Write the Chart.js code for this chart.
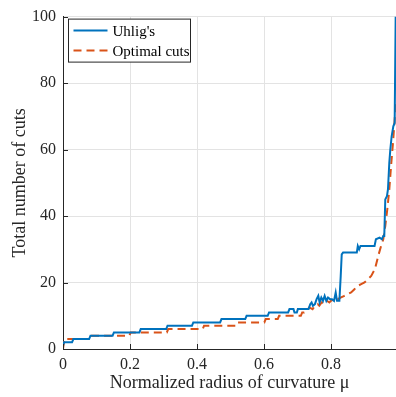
<!DOCTYPE html>
<html>
<head>
<meta charset="utf-8">
<script src="https://cdn.jsdelivr.net/npm/chart.js@4"></script>
<style>
  html, body { margin: 0; padding: 0; background: #fff; }
  #wrap { width: 396px; height: 397px; }
</style>
</head>
<body>
<div id="wrap"><canvas id="chart" width="396" height="397"></canvas></div>
<script>
// Uhlig's curve (blue, solid)
const uhligMu = [0, 0.003, 0.027, 0.031, 0.078, 0.082, 0.148, 0.152, 0.228, 0.232, 0.308, 0.312,
  0.385, 0.389, 0.469, 0.473, 0.544, 0.548, 0.611, 0.615, 0.672, 0.676, 0.688, 0.691, 0.698, 0.701,
  0.733, 0.738, 0.742, 0.746, 0.752, 0.757, 0.762, 0.766, 0.771, 0.776, 0.781, 0.786, 0.791, 0.797,
  0.803, 0.809, 0.814, 0.818, 0.825, 0.829, 0.832, 0.836, 0.877, 0.880, 0.884, 0.888, 0.930, 0.934,
  0.945, 0.952, 0.956, 0.959, 0.962, 0.967, 0.970, 0.974, 0.977, 0.981, 0.986, 0.990, 0.993];
const uhligCuts = [1, 2, 2, 3, 3, 4, 4, 5, 5, 6, 6, 7,
  7, 8, 8, 9, 9, 10, 10, 11, 11, 12, 12, 11, 11, 12,
  12, 13.5, 14, 13, 13.5, 15, 16, 14, 15.5, 14.5, 16, 14.5, 15.5, 15,
  15, 14.5, 17, 14.5, 14.5, 22, 28.5, 29, 29, 31, 30, 31, 31, 33,
  33.5, 33, 34, 34, 45, 46, 48, 56, 60, 64, 67, 68, 100];

// Optimal cuts (orange, dashed)
const optMu = [0, 0.004, 0.078, 0.082, 0.198, 0.202, 0.310, 0.314, 0.417, 0.421, 0.516, 0.520,
  0.601, 0.605, 0.641, 0.645, 0.710, 0.714, 0.720, 0.728, 0.735, 0.745, 0.752, 0.760, 0.765, 0.772,
  0.780, 0.788, 0.795, 0.800, 0.810, 0.820, 0.830, 0.840, 0.850, 0.860, 0.870, 0.880, 0.890, 0.900,
  0.910, 0.920, 0.931, 0.941, 0.948, 0.956, 0.962, 0.968, 0.974, 0.980, 0.985, 0.990, 0.994];
const optCuts = [0, 3, 3, 4, 4, 5, 5, 6, 6, 7, 7, 8,
  8, 9, 9, 10, 10, 11, 11, 11.5, 12.5, 12, 13, 13.5, 13, 14,
  13.5, 14.5, 14, 14.5, 15, 15, 15.5, 16, 16.5, 17, 18, 19, 19.5, 20,
  21, 22, 24, 28, 30.5, 33, 37, 42, 48, 56, 62, 69, 75];

const seriesNames = ["Uhlig's", 'Optimal cuts'];
const xTicks = [0, 0.2, 0.4, 0.6, 0.8];
const yTicks = [0, 20, 40, 60, 80, 100];

const serif = "'Liberation Serif', 'DejaVu Serif', serif";
const axisColor = '#262626';
const gridColor = '#e3e3e3';

function toPoints(xs, ys) {
    return xs.map((x, i) => ({ x, y: ys[i] }));
}

// inward tick marks + boxed legend, MATLAB style
const matlabBits = {
    id: 'matlabBits',
    afterDraw(chart) {
        const ctx = chart.ctx;
        const area = chart.chartArea;
        const xs = chart.scales.x;
        const ys = chart.scales.y;
        ctx.save();
        ctx.strokeStyle = axisColor;
        ctx.lineWidth = 1;
        ctx.beginPath();
        xTicks.forEach(v => {
            const px = Math.round(xs.getPixelForValue(v)) + 0.5;
            ctx.moveTo(px, area.bottom);
            ctx.lineTo(px, area.bottom - 5);
        });
        yTicks.forEach(v => {
            const py = Math.round(ys.getPixelForValue(v)) + 0.5;
            ctx.moveTo(area.left, py);
            ctx.lineTo(area.left + 5, py);
        });
        ctx.stroke();

        // legend box
        const bx = area.left + 5.5, by = area.top + 2.5, bw = 122, bh = 43;
        ctx.fillStyle = '#fff';
        ctx.fillRect(bx, by, bw, bh);
        ctx.strokeStyle = axisColor;
        ctx.strokeRect(bx, by, bw, bh);
        ctx.font = '15px ' + serif;
        ctx.textBaseline = 'middle';
        chart.data.datasets.forEach((ds, i) => {
            const ly = by + 11.5 + i * 20;
            ctx.beginPath();
            ctx.strokeStyle = ds.borderColor;
            ctx.lineWidth = 2;
            ctx.setLineDash(ds.borderDash || []);
            ctx.moveTo(bx + 5, ly);
            ctx.lineTo(bx + 39, ly);
            ctx.stroke();
            ctx.setLineDash([]);
            ctx.fillStyle = '#000';
            ctx.fillText(ds.label, bx + 44, ly + 1);
        });
        ctx.restore();
    }
};

new Chart(document.getElementById('chart'), {
    type: 'line',
    data: {
        datasets: [
            {
                label: seriesNames[0],
                data: toPoints(uhligMu, uhligCuts),
                borderColor: '#0072BD',
                borderWidth: 2,
                pointRadius: 0,
                tension: 0
            },
            {
                label: seriesNames[1],
                data: toPoints(optMu, optCuts),
                borderColor: '#D95319',
                borderWidth: 2,
                borderDash: [8, 5],
                pointRadius: 0,
                tension: 0
            }
        ]
    },
    options: {
        responsive: false,
        animation: false,
        layout: { padding: { top: 15, right: 0, left: 0, bottom: 0 } },
        plugins: {
            legend: { display: false },
            tooltip: { enabled: false }
        },
        scales: {
            x: {
                type: 'linear',
                min: 0,
                max: 0.994,
                afterBuildTicks: s => { s.ticks = xTicks.map(v => ({ value: v })); },
                afterFit: s => { s.height = 48; },
                grid: { color: gridColor, drawTicks: false },
                border: { display: true, color: axisColor, width: 1 },
                ticks: {
                    padding: 6,
                    color: '#262626',
                    font: { family: serif, size: 16 },
                    maxRotation: 0,
                    callback: v => v === 0 ? '0' : v.toFixed(1)
                },
                title: {
                    display: true,
                    text: 'Normalized radius of curvature μ',
                    color: '#262626',
                    font: { family: serif, size: 18 },
                    padding: { top: 0, bottom: 3 }
                }
            },
            y: {
                min: 0,
                max: 100,
                afterBuildTicks: s => { s.ticks = yTicks.map(v => ({ value: v })); },
                afterFit: s => { s.width = 63; },
                grid: { color: gridColor, drawTicks: false },
                border: { display: true, color: axisColor, width: 1 },
                ticks: {
                    padding: 7,
                    color: '#262626',
                    font: { family: serif, size: 16 }
                },
                title: {
                    display: true,
                    text: 'Total number of cuts',
                    color: '#262626',
                    font: { family: serif, size: 18 },
                    padding: { top: 9, bottom: 0 }
                }
            }
        }
    },
    plugins: [matlabBits]
});
</script>
</body>
</html>
